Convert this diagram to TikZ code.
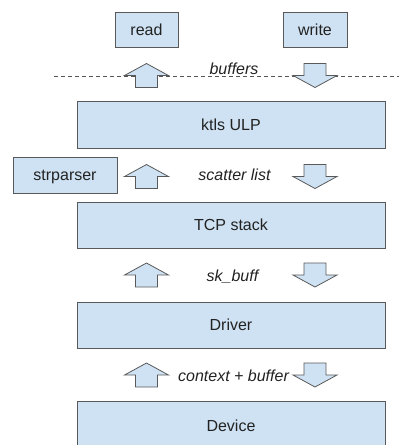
\documentclass[tikz,border=0pt]{standalone}
\usepackage{fontspec}
\setmainfont{Liberation Sans}
\definecolor{boxblue}{HTML}{CFE2F3}
\definecolor{edgegray}{HTML}{595959}
\definecolor{textdark}{HTML}{222222}
\definecolor{dashgray}{HTML}{555555}
\begin{document}
\begin{tikzpicture}[x=1pt,y=-1pt,
  box/.style={draw=edgegray, fill=boxblue, line width=0.8pt, inner sep=0pt,
    text height=11.5pt, text depth=0pt, text=textdark,
    font=\fontsize{16}{19}\selectfont},
  layer/.style={box, minimum width=308pt, minimum height=46pt},
  flowlabel/.style={anchor=base, inner sep=0pt, text=textdark,
    font=\fontsize{16}{19}\selectfont\itshape},
  blockarrow/.style={draw=edgegray, fill=boxblue, line width=0.8pt, line join=miter},
  boundary/.style={draw=dashgray, line width=0.8pt, dash pattern=on 4pt off 3pt},
  uparrow/.pic={\path[blockarrow] (0,-12) -- (22,0) -- (11,0) -- (11,12)
    -- (-11,12) -- (-11,0) -- (-22,0) -- cycle;},
  downarrow/.pic={\path[blockarrow] (0,12) -- (22,0) -- (11,0) -- (11,-12)
    -- (-11,-12) -- (-11,0) -- (-22,0) -- cycle;}
]
\clip (0,0) rectangle (399,445);

% user space calls
\node[box, minimum width=63pt, minimum height=35pt] (read)  at (146.5,30) {read};
\node[box, minimum width=64pt, minimum height=35pt] (write) at (315,30)   {write};

% user/kernel boundary
\coordinate (bl) at (54,76);
\coordinate (br) at (399,76);
\draw[boundary] (bl) -- (br);

% kernel layers
\node[layer, minimum height=47pt] (ktls)   at (231,124.5) {ktls ULP};
\node[box, minimum width=104pt, minimum height=36pt] (strp) at (65,175) {strparser};
\node[layer] (tcp)    at (231,225) {TCP stack};
\node[layer] (driver) at (231,325) {Driver};
\node[layer, minimum height=50pt] (device) at (231,426) {Device};

% data passed between layers
\pic (rx1) at (146.5,75.5) {uparrow};
\pic (tx1) at (315,75.5)   {downarrow};
\node[flowlabel] (lbuf) at (234,74) {buffers};

\pic (rx2) at (146.5,176.5) {uparrow};
\pic (tx2) at (315,176.5)   {downarrow};
\node[flowlabel] (lsg) at (234.5,180) {scatter list};

\pic (rx3) at (146.5,275) {uparrow};
\pic (tx3) at (315,275)   {downarrow};
\node[flowlabel] (lskb) at (232.5,281) {sk\_buff};

\pic (rx4) at (146.5,375) {uparrow};
\pic (tx4) at (315,375)   {downarrow};
\node[flowlabel] (lctx) at (233.5,381) {context + buffer};
\end{tikzpicture}
\end{document}
